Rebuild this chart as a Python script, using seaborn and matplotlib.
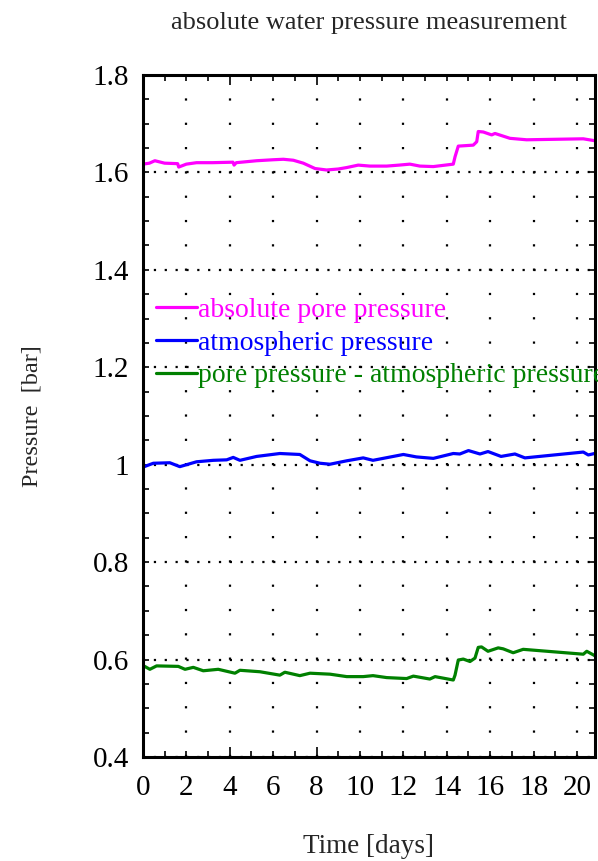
import matplotlib
matplotlib.use("Agg")
import matplotlib.pyplot as plt
import numpy as np
import pandas as pd
import seaborn as sns
from matplotlib.ticker import MultipleLocator

# absolute pore pressure
abs_days = [0.0, 0.3, 0.55, 1.0, 1.6, 1.65, 2.0, 2.47, 3.2, 4.15, 4.2, 4.3, 5.24, 6.0,
            6.47, 6.93, 7.39, 7.93, 8.46, 9.0, 9.39, 9.92, 10.46, 11.23, 11.8, 12.3,
            12.76, 13.38, 14.3, 14.38, 14.53, 15.22, 15.38, 15.45, 15.68, 16.07,
            16.22, 16.91, 17.68, 20.29, 20.83]
abs_vals = [1.617, 1.619, 1.624, 1.619, 1.618, 1.611, 1.617, 1.620, 1.620, 1.621,
            1.615, 1.620, 1.624, 1.626, 1.627, 1.625, 1.619, 1.608, 1.605, 1.607,
            1.610, 1.615, 1.613, 1.613, 1.615, 1.617, 1.613, 1.612, 1.617, 1.632,
            1.654, 1.656, 1.663, 1.684, 1.683, 1.677, 1.680, 1.670, 1.667, 1.669,
            1.665]

# atmospheric pressure
atm_days = [0.0, 0.48, 1.24, 1.7, 2.47, 3.24, 3.86, 4.16, 4.47, 5.24, 6.31, 7.23,
            7.7, 8.16, 8.62, 9.39, 10.15, 10.6, 12.0, 12.6, 13.38, 14.3, 14.6, 15.0,
            15.53, 15.9, 16.5, 17.14, 17.6, 20.29, 20.52, 20.9]
atm_vals = [0.995, 1.003, 1.004, 0.996, 1.006, 1.009, 1.010, 1.015, 1.009, 1.017,
            1.023, 1.021, 1.008, 1.003, 1.001, 1.008, 1.014, 1.009, 1.021, 1.016,
            1.013, 1.023, 1.022, 1.029, 1.022, 1.027, 1.017, 1.022, 1.014, 1.026,
            1.020, 1.024]

# pore pressure - atmospheric pressure
diff_days = [0.0, 0.32, 0.63, 1.63, 1.94, 2.32, 2.78, 3.47, 4.24, 4.47, 5.39, 6.31,
             6.54, 7.23, 7.7, 8.62, 9.39, 10.15, 10.6, 11.23, 12.15, 12.46, 13.22,
             13.46, 14.3, 14.38, 14.53, 14.76, 15.07, 15.3, 15.45, 15.6, 15.9,
             16.37, 16.6, 17.06, 17.52, 20.29, 20.45, 20.9]
diff_vals = [0.588, 0.580, 0.587, 0.586, 0.580, 0.584, 0.577, 0.580, 0.572, 0.578,
             0.575, 0.568, 0.574, 0.567, 0.572, 0.570, 0.565, 0.565, 0.567, 0.563,
             0.561, 0.566, 0.560, 0.565, 0.558, 0.568, 0.599, 0.601, 0.596, 0.603,
             0.625, 0.626, 0.617, 0.624, 0.622, 0.614, 0.621, 0.611, 0.617, 0.606]

series = [
    ("absolute pore pressure", abs_days, abs_vals, "#ff00ff"),
    ("atmospheric pressure", atm_days, atm_vals, "#0000ff"),
    ("pore pressure - atmospheric pressure", diff_days, diff_vals, "#008000"),
]

sns.set_theme(style="white")
plt.rcParams["font.family"] = ["Liberation Serif", "DejaVu Serif"]

fig = plt.figure(figsize=(5.98, 8.61), dpi=100)
ax = fig.add_axes([0.239, 0.1208, 0.756, 0.7921])

for label, days, vals, color in series:
    df = pd.DataFrame({"day": days, "p": vals})
    sns.lineplot(data=df, x="day", y="p", ax=ax, color=color, lw=2.3,
                 label=label, sort=False, estimator=None)

ax.set_xlim(0, 20.83)
ax.set_ylim(0.4, 1.8)

ax.xaxis.set_major_locator(MultipleLocator(2))
ax.xaxis.set_minor_locator(MultipleLocator(1))
ax.yaxis.set_minor_locator(MultipleLocator(0.05))
ax.set_yticks([0.4, 0.6, 0.8, 1.0, 1.2, 1.4, 1.6, 1.8])
ax.set_yticklabels(["0.4", "0.6", "0.8", "1", "1.2", "1.4", "1.6", "1.8"])

ax.tick_params(which="both", direction="in", top=True, right=True,
               left=True, bottom=True, length=4, width=1.2, color="black",
               labelsize=21, labelcolor="black")
ax.tick_params(axis="x", which="major", pad=13)
ax.tick_params(axis="y", which="major", pad=10)
for t in ax.xaxis.get_major_ticks():
    if abs(t.get_loc() % 10) < 1e-6:
        t.tick1line.set_markersize(7)
        t.tick2line.set_markersize(7)

# MATLAB-style dotted grid
ax.xaxis.grid(True, which="major", color="black", lw=1.6,
              linestyle=(0, (1, 9.94)))
ax.yaxis.grid(True, which="major", color="black", lw=1.6,
              linestyle=(0, (1, 3.88)))
ax.set_axisbelow(True)

for sp in ax.spines.values():
    sp.set_visible(True)
    sp.set_color("black")
    sp.set_linewidth(2.2)

ax.set_xlabel("Time [days]", fontsize=19.5, labelpad=24)
ax.set_ylabel("Pressure  [bar]", fontsize=17.5, labelpad=36)
ax.set_title("absolute water pressure measurement", fontsize=19, pad=33)

leg = ax.legend(loc="upper left", bbox_to_anchor=(0.005, 0.69), frameon=False,
                fontsize=20, handlelength=1.45, handletextpad=0.05,
                labelspacing=0.26, borderaxespad=0, labelcolor="linecolor")
for line in leg.get_lines():
    line.set_linewidth(2.3)

fig.savefig("out.png", dpi=100)
